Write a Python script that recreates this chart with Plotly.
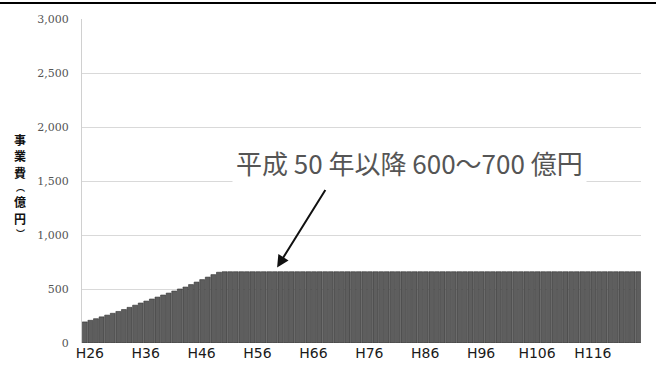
import plotly.graph_objects as go

# Fiscal years H26 .. H125 (Heisei era numbering)
years = [f"H{n}" for n in range(26, 126)]
ramp_values = [195, 210, 225, 242, 258, 275, 292, 310, 330, 350,
               370, 388, 407, 425, 444, 462, 481, 500, 518, 541,
               564, 587, 610, 633, 655]
flat_values = [660] * (len(years) - len(ramp_values))
values = ramp_values + flat_values

tick_labels = ["H26", "H36", "H46", "H56", "H66", "H76", "H86", "H96", "H106", "H116"]
y_ticks = [0, 500, 1000, 1500, 2000, 2500, 3000]
y_tick_text = ["0", "500", "1,000", "1,500", "2,000", "2,500", "3,000"]
y_title_chars = ["事", "業", "費", "︵", "億", "円", "︶"]
callout_text = "平成 50 年以降 600～700 億円"

W, H = 656, 370
L, R, T, B = 82, 15, 19, 27
plot_h = H - T - B
plot_w = W - L - R

fig = go.Figure()
fig.add_trace(go.Bar(
    x=years, y=values,
    marker=dict(color="#5e5e5e", line=dict(color="#303030", width=0.6)),
    hoverinfo="x+y",
))

fig.update_layout(
    width=W, height=H,
    margin=dict(l=L, r=R, t=T, b=B, autoexpand=False),
    paper_bgcolor="white", plot_bgcolor="white",
    bargap=0.12,
    showlegend=False,
    xaxis=dict(
        type="category",
        tickmode="array", tickvals=tick_labels, ticktext=tick_labels,
        tickfont=dict(family="DejaVu Sans", size=14, color="#1a1a1a"),
        ticklabelshift=5,
        showgrid=False, showline=False, ticks="",
        automargin=False,
    ),
    yaxis=dict(
        range=[0, 3000],
        tickmode="array", tickvals=y_ticks, ticktext=y_tick_text,
        tickfont=dict(family="DejaVu Serif", size=11, color="#555555"),
        showgrid=True, gridcolor="#d9d9d9", gridwidth=1,
        showline=True, linecolor="#d0d0d0", linewidth=1,
        ticks="", ticklabelstandoff=10,
        zeroline=False, automargin=False,
    ),
    font=dict(family="Noto Sans CJK JP"),
)

# top border line (pixel y = 3)
fig.add_shape(type="line", xref="paper", yref="paper",
              x0=-0.2, x1=1.1, y0=(H - B - 3) / plot_h, y1=(H - B - 3) / plot_h,
              line=dict(color="black", width=2))

# vertical y-axis title, one character per annotation
char_px_y = [139, 155, 172, 187, 201, 218, 233]
for ch, py in zip(y_title_chars, char_px_y):
    is_bracket = ch in ("︵", "︶")
    fig.add_annotation(
        xref="paper", yref="paper",
        x=(20 - L) / plot_w, y=(H - B - py) / plot_h,
        xanchor="center", yanchor="middle",
        text=f"<b>{ch}</b>", showarrow=False,
        font=dict(family="Noto Sans CJK JP", size=9 if is_bracket else 12,
                  color="#111111"),
        borderpad=0,
    )

# callout text
fig.add_annotation(
    x=58, y=1670, xref="x", yref="y",
    xanchor="center", yanchor="middle",
    text=callout_text,
    showarrow=False,
    font=dict(family="Noto Sans CJK JP", size=26, color="#555555"),
    bgcolor="white", borderpad=3,
)

# arrow
fig.add_annotation(
    x=34.4, y=700, xref="x", yref="y",
    ax=43.2, ay=1430, axref="x", ayref="y",
    text="", showarrow=True,
    arrowhead=2, arrowsize=1.2, arrowwidth=2, arrowcolor="#111111",
)

fig.write_html("out.html", config={"displayModeBar": False},
               post_script="document.body.style.margin='0';")
